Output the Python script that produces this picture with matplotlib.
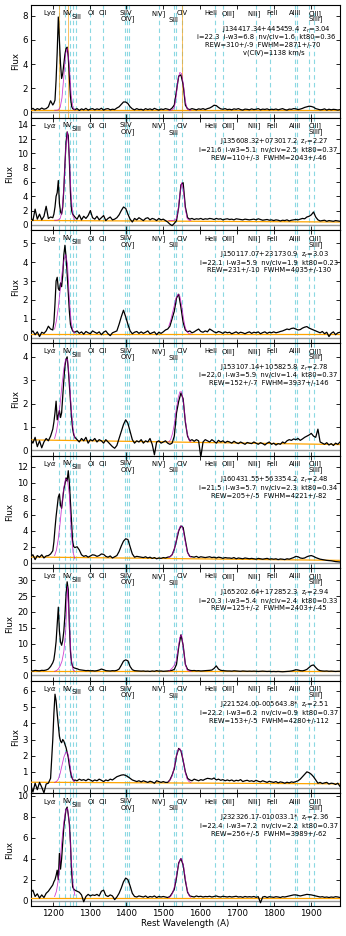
import numpy as np
import matplotlib
matplotlib.use("Agg")
import matplotlib.pyplot as plt

# ---------------- data ----------------
wave = np.concatenate([np.arange(1140, 1200, 6), np.arange(1200, 1260, 3), np.arange(1260, 1981, 6)])

flux_1 = [0.20, 0.32, 0.18, 0.30, 0.22, 0.35, 0.25, 0.30, 0.45, 0.95,
          0.60, 0.75, 1.00, 2.70, 5.00, 7.90, 6.00, 4.00, 2.80, 3.20, 4.00, 4.80, 5.30, 5.40, 4.60, 2.90, 1.30, 0.50, 0.30, 0.25,
          0.22, 0.30, 0.15, 0.28, 0.20, 0.32, 0.18, 0.26, 0.30, 0.20,
          0.28, 0.22, 0.33, 0.18, 0.27, 0.30, 0.20, 0.25, 0.22, 0.35,
          0.45, 0.65, 0.85, 0.85, 0.72, 0.45, 0.28, 0.20, 0.30, 0.22,
          0.25, 0.18, 0.30, 0.22, 0.28, 0.20, 0.32, 0.24, 0.18, 0.27,
          0.22, 0.30, 0.25, 0.20, 0.35, 0.60, 1.80, 3.00, 3.10, 2.30,
          0.60, 0.28, 0.22, 0.30, 0.25, 0.20, 0.28, 0.24, 0.30, 0.22,
          0.30, 0.35, 0.45, 0.58, 0.55, 0.40, 0.28, 0.25, 0.30, 0.22,
          0.25, 0.20, 0.28, 0.24, 0.30, 0.22, 0.18, 0.26, 0.24, 0.20,
          0.28, 0.22, 0.25, 0.30, 0.20, 0.26, 0.23, 0.28, 0.20, 0.25,
          0.22, 0.27, 0.20, 0.25, 0.30, 0.22, 0.18, 0.26, 0.24, 0.30,
          0.28, 0.22, 0.26, 0.32, 0.40, 0.45, 0.50, 0.48, 0.42, 0.30,
          0.25, 0.20, 0.22, 0.28, 0.18, 0.25, 0.20, 0.24, 0.22, 0.18,
          0.22]
flux_2 = [1.00, 0.60, 2.20, 0.80, 1.50, 0.70, 1.20, 2.60, 0.90, 1.10,
          1.00, 1.50, 2.50, 4.00, 4.50, 6.20, 3.00, 1.80, 1.50, 2.50, 5.00, 8.50, 11.50, 13.00, 12.50, 9.00, 4.50, 2.00, 1.50, 1.30,
          1.10, 0.80, 1.40, 0.70, 1.20, 0.90, 1.30, 2.00, 1.00, 0.80,
          1.20, 0.70, 1.00, 1.30, 0.60, 0.90, 1.10, 0.70, 0.80, 1.00,
          1.40, 2.00, 2.50, 2.30, 1.50, 0.80, 0.40, 0.90, 0.70, 1.00,
          0.80, 0.60, 0.90, 1.00, 0.70, 0.90, 0.80, 0.60, 0.90, 0.70,
          0.80, 0.60, 0.40, 0.10, -0.10, 0.20, 0.60, 2.50, 5.60, 5.90,
          2.50, 1.00, 0.80, 0.90, 0.75, 0.85, 0.80, 0.90, 0.75, 0.85,
          0.80, 0.90, 0.85, 0.75, 0.90, 0.80, 0.85, 0.70, 0.80, 0.85,
          0.75, 0.80, 0.70, 0.85, 0.80, 0.75, 0.70, 0.80, 0.75, 0.70,
          0.75, 0.80, 0.70, 0.85, 0.75, 0.65, 0.70, 0.75, 0.65, 0.70,
          0.60, 0.70, 0.65, 0.55, 0.65, 0.60, 0.70, 0.55, 0.65, 0.70,
          0.75, 0.70, 0.80, 0.90, 0.85, 1.10, 1.20, 1.40, 1.80, 1.10,
          0.70, 0.55, 0.60, 0.65, 0.50, 0.60, 0.55, 0.50, 0.60, 0.55,
          0.50]
flux_3 = [0.25, 0.35, 0.15, 0.30, 0.05, 0.28, 0.22, 0.35, 0.60, 0.45,
          0.40, 0.80, 1.80, 3.00, 3.20, 2.60, 2.50, 2.90, 2.70, 3.30, 4.40, 4.90, 4.30, 3.40, 2.40, 1.40, 0.70, 0.50, 0.35, 0.30,
          0.28, 0.35, 0.22, 0.30, 0.18, 0.32, 0.25, 0.20, 0.35, 0.28,
          0.22, 0.30, 0.15, 0.28, 0.35, 0.20, 0.10, 0.25, 0.30, 0.35,
          0.70, 1.10, 1.45, 1.10, 0.70, 0.35, 0.20, 0.28, 0.32, 0.22,
          0.30, 0.22, 0.28, 0.35, 0.20, 0.25, 0.30, 0.15, 0.28, 0.22,
          0.30, 0.40, 0.45, 0.60, 1.00, 1.40, 2.10, 2.30, 1.60, 0.80,
          0.40, 0.30, 0.35, 0.25, 0.30, 0.38, 0.45, 0.32, 0.28, 0.35,
          0.30, 0.45, 0.38, 0.30, 0.25, 0.32, 0.28, 0.22, 0.30, 0.25,
          0.28, 0.20, 0.25, 0.30, 0.22, 0.28, 0.25, 0.20, 0.26, 0.30,
          0.22, 0.28, 0.25, 0.30, 0.20, 0.26, 0.30, 0.22, 0.28, 0.25,
          0.30, 0.25, 0.28, 0.32, 0.35, 0.40, 0.45, 0.42, 0.48, 0.50,
          0.45, 0.40, 0.42, 0.50, 0.55, 0.58, 0.50, 0.45, 0.40, 0.35,
          0.30, 0.25, 0.32, 0.20, 0.28, 0.05, 0.22, 0.30, 0.15, 0.25,
          0.28]
flux_4 = [0.45, 0.30, 0.55, 0.15, 0.40, 0.10, 0.35, 0.50, 0.40, 0.60,
          0.90, 1.20, 1.60, 2.10, 1.30, 1.50, 1.70, 1.40, 1.60, 2.30, 3.00, 3.60, 3.90, 4.00, 3.50, 2.80, 2.10, 1.40, 0.90, 0.65,
          0.55, 0.45, 0.35, 0.50, 0.40, 0.55, 0.30, 0.45, 0.40, 0.50,
          0.35, 0.45, 0.40, 0.30, 0.45, 0.35, 0.25, 0.15, 0.08, 0.20,
          0.50, 0.80, 1.10, 1.30, 1.15, 0.80, 0.45, 0.30, 0.40, 0.35,
          0.45, 0.30, 0.40, 0.35, 0.50, 0.25, -0.20, 0.35, 0.40, 0.30,
          0.35, 0.40, 0.30, 0.25, 0.30, 0.60, 1.60, 2.10, 2.45, 2.20,
          1.20, 0.60, 0.40, 0.45, 0.38, 0.45, 0.40, -0.30, 0.35, 0.45,
          0.40, 0.35, 0.45, 0.38, 0.30, 0.42, 0.35, 0.40, 0.32, 0.38,
          0.35, 0.30, 0.38, 0.32, 0.28, 0.35, 0.30, 0.25, 0.33, 0.30,
          0.28, 0.35, 0.30, 0.25, 0.32, 0.28, 0.22, 0.30, 0.35, 0.25,
          0.30, 0.22, 0.28, 0.25, 0.35, 0.30, 0.40, 0.45, 0.42, 0.48,
          0.45, 0.50, 0.42, 0.48, 0.55, 0.60, 0.65, 0.72, 0.60, 0.55,
          0.90, 0.35, 0.30, 0.25, 0.32, 0.22, 0.28, 0.20, 0.30, 0.25,
          0.35]
flux_5 = [0.80, 1.00, 0.40, 0.90, 0.70, 1.00, 0.60, 0.85, 0.90, 1.10,
          1.50, 2.60, 4.30, 5.80, 7.00, 8.20, 8.60, 7.20, 6.80, 8.00, 9.20, 9.80, 10.60, 10.20, 11.50, 10.00, 7.50, 4.80, 2.60, 2.00,
          1.90, 2.00, 1.60, 1.00, 0.80, 0.90, 0.70, 0.85, 1.00, 0.95,
          0.80, 0.90, 1.10, 1.05, 0.80, 0.70, 0.85, 0.60, 0.75, 0.90,
          1.40, 2.10, 2.70, 3.00, 2.90, 2.00, 1.10, 0.70, 0.80, 0.75,
          0.70, 0.65, 0.75, 0.60, 0.70, 0.55, 0.65, 0.50, 0.60, 0.55,
          0.65, 0.60, 0.70, 0.75, 1.00, 1.70, 2.80, 4.00, 4.60, 4.40,
          2.80, 1.30, 0.80, 0.75, 0.70, 0.80, 0.65, 0.75, 0.70, 0.65,
          0.70, 0.75, 0.65, 0.70, 0.60, 0.70, 0.65, 0.55, 0.65, 0.60,
          0.60, 0.55, 0.65, 0.50, 0.60, 0.55, 0.50, 0.60, 0.55, 0.50,
          0.55, 0.50, 0.45, 0.55, 0.50, 0.45, 0.50, 0.55, 0.45, 0.50,
          0.45, 0.50, 0.40, 0.48, 0.45, 0.40, 0.50, 0.45, 0.55, 0.65,
          0.80, 0.75, 0.60, 0.55, 0.60, 0.75, 0.85, 0.90, 0.80, 0.65,
          0.55, 0.45, 0.40, 0.35, 0.30, 0.28, 0.25, 0.20, 0.15, 0.12,
          0.10]
flux_6 = [1.50, 1.40, 1.60, 1.50, 1.45, 1.60, 1.55, 1.70, 2.00, 2.80,
          4.00, 5.00, 7.50, 10.70, 16.00, 21.50, 14.00, 10.50, 9.50, 11.00, 14.00, 19.00, 25.50, 29.50, 27.00, 16.00, 7.50, 4.00, 2.80, 2.40,
          2.30, 2.10, 1.80, 1.70, 1.60, 1.50, 1.55, 1.45, 1.50, 1.40,
          1.50, 1.70, 2.00, 1.80, 1.50, 1.45, 1.40, 1.50, 1.45, 1.60,
          2.00, 3.20, 4.50, 4.90, 4.60, 2.80, 1.80, 1.50, 1.45, 1.40,
          1.35, 1.40, 1.30, 1.35, 1.25, 1.40, 1.30, 1.50, 1.35, 1.40,
          1.30, 1.35, 1.40, 1.50, 1.60, 1.90, 3.50, 9.00, 12.80, 9.50,
          3.50, 1.90, 1.60, 1.50, 1.55, 1.45, 1.50, 1.40, 1.45, 1.50,
          1.55, 1.60, 1.70, 2.20, 3.00, 2.00, 1.60, 1.50, 1.45, 1.40,
          1.40, 1.35, 1.45, 1.40, 1.35, 1.30, 1.40, 1.35, 1.30, 1.35,
          1.30, 1.35, 1.30, 1.25, 1.30, 1.35, 1.30, 1.25, 1.30, 1.20,
          1.25, 1.20, 1.25, 1.20, 1.15, 1.20, 1.25, 1.30, 1.40, 1.55,
          1.80, 1.70, 1.50, 1.45, 1.60, 1.90, 2.50, 3.10, 3.30, 2.50,
          1.80, 1.50, 1.40, 1.35, 1.40, 1.30, 1.35, 1.30, 1.25, 1.30,
          1.30]
flux_7 = [0.20, -0.25, 0.30, -0.10, 0.35, 0.05, -0.30, 0.25, 0.30, 0.60,
          3.00, 4.60, 5.80, 5.40, 4.60, 3.90, 3.20, 2.90, 2.80, 3.00, 2.90, 2.70, 2.50, 2.20, 1.90, 1.40, 1.00, 0.70, 0.55, 0.45,
          0.50, 0.45, 0.55, 0.48, 0.52, 0.45, 0.55, 0.50, 0.42, 0.50,
          0.45, 0.55, 0.48, 0.40, 0.50, 0.45, 0.55, 0.50, 0.60, 0.70,
          0.75, 0.80, 0.82, 0.78, 0.70, 0.60, 0.50, 0.45, 0.40, 0.45,
          0.38, 0.45, 0.40, 0.35, 0.42, 0.38, 0.30, 0.45, 0.40, 0.35,
          0.40, 0.35, 0.35, 0.50, 0.80, 1.20, 2.00, 2.45, 2.30, 1.70,
          1.00, 0.60, 0.50, 0.45, 0.55, 0.50, 0.45, 0.52, 0.48, 0.55,
          0.60, 0.58, 0.55, 0.62, 0.50, 0.55, 0.48, 0.52, 0.45, 0.50,
          0.45, 0.50, 0.42, 0.48, 0.45, 0.52, 0.40, 0.45, 0.48, 0.42,
          0.45, 0.40, 0.48, 0.42, 0.38, 0.45, 0.40, 0.35, 0.42, 0.38,
          0.35, 0.40, 0.32, 0.38, 0.35, 0.30, 0.36, 0.32, 0.38, 0.35,
          0.40, 0.45, 0.55, 0.70, 0.85, 1.00, 0.95, 0.85, 0.70, 0.50,
          0.30, 0.35, 0.28, 0.32, 0.35, 0.25, 0.30, 0.28, 0.22, 0.30,
          0.10]
flux_8 = [0.80, 1.00, 0.40, 0.65, 0.25, 0.55, 0.30, 0.70, 0.90, 1.20,
          1.50, 1.80, 2.00, 2.40, 2.90, 2.00, 4.50, 3.00, 4.00, 5.50, 7.00, 7.90, 8.70, 8.90, 8.20, 7.30, 5.50, 2.80, 1.30, 1.10,
          1.00, 0.90, 0.80, 0.55, -0.10, 0.40, 0.60, 0.45, 0.55, 0.50,
          0.60, 0.45, 0.90, 1.00, 0.50, 0.40, 0.55, 0.45, 0.10, 0.35,
          0.70, 1.20, 1.80, 2.15, 2.00, 1.40, 0.70, 0.40, 0.35, 0.45,
          0.40, 0.35, 0.45, 0.30, 0.40, 0.35, 0.45, 0.30, 0.40, 0.35,
          0.40, 0.35, 0.30, 0.40, 0.70, 1.10, 2.20, 3.60, 4.00, 3.40,
          1.90, 0.80, 0.45, 0.40, 0.35, 0.45, 0.38, 0.42, 0.35, 0.40,
          0.38, 0.42, 0.35, 0.40, 0.45, 0.38, 0.35, 0.42, 0.38, 0.35,
          0.40, 0.35, 0.38, 0.42, 0.35, 0.38, 0.32, 0.40, 0.35, 0.38,
          0.35, 0.40, 0.32, 0.38, -0.20, 0.35, 0.40, 0.30, 0.38, 0.35,
          0.32, 0.38, 0.35, 0.30, 0.38, 0.35, 0.40, 0.45, 0.50, 0.55,
          0.55, 0.50, 0.45, 0.50, 0.55, 0.60, 0.58, 0.55, 0.50, 0.45,
          0.40, 0.35, 0.38, 0.32, 0.35, 0.30, 0.35, 0.32, 0.38, 0.35,
          0.30]
fluxes = [flux_1, flux_2, flux_3, flux_4, flux_5, flux_6, flux_7, flux_8]

# magenta line-model curves (NV and CIV regions)
nv_wave = [1205, 1210, 1215, 1220, 1225, 1230, 1235, 1240, 1245, 1250, 1255, 1260]
civ_wave = [1515, 1520, 1525, 1530, 1535, 1540, 1545, 1550, 1555, 1560, 1565, 1570, 1575]
nv_model = [
    [0.17, 0.17, 0.20, 0.40, 1.20, 3.00, 4.90, 5.30, 3.80, 1.40, 0.35, 0.17],
    [0.65, 0.65, 0.70, 0.90, 1.80, 5.00, 10.5, 13.0, 9.50, 3.80, 1.20, 0.70],
    [0.45, 0.90, 1.60, 2.50, 3.40, 4.10, 4.40, 3.90, 2.00, 0.80, 0.35, 0.22],
    [0.50, 0.80, 1.30, 2.00, 2.80, 3.50, 3.90, 3.90, 3.00, 1.80, 0.90, 0.50],
    [0.90, 1.60, 3.00, 5.00, 7.40, 9.40, 10.5, 10.3, 8.50, 4.00, 1.30, 0.50],
    [1.30, 1.50, 2.00, 3.00, 4.50, 7.50, 14.0, 28.0, 17.0, 5.00, 1.80, 1.30],
    [0.35, 0.40, 0.55, 0.90, 1.40, 1.90, 2.20, 2.20, 1.70, 0.90, 0.50, 0.37],
    [0.40, 0.90, 2.00, 3.80, 5.80, 7.50, 8.60, 8.80, 7.30, 4.00, 1.50, 0.50],
]
civ_model = [
    [0.17, 0.17, 0.20, 0.40, 1.30, 2.70, 3.30, 3.20, 2.20, 0.90, 0.30, 0.18, 0.17],
    [0.62, 0.62, 0.62, 0.65, 0.80, 1.80, 4.20, 5.90, 4.80, 2.20, 0.90, 0.65, 0.62],
    [0.60, 0.90, 1.30, 1.70, 2.10, 2.30, 2.20, 1.70, 1.00, 0.50, 0.30, 0.20, 0.19],
    [0.35, 0.45, 0.70, 1.10, 1.70, 2.20, 2.50, 2.50, 2.00, 1.30, 0.70, 0.45, 0.35],
    [0.70, 0.80, 1.10, 1.70, 2.70, 3.80, 4.50, 4.60, 3.90, 2.60, 1.40, 0.90, 0.70],
    [1.40, 1.80, 2.40, 3.20, 4.50, 8.00, 12.0, 12.8, 8.50, 3.50, 1.70, 1.35, 1.30],
    [0.40, 0.55, 0.80, 1.30, 1.90, 2.35, 2.45, 2.20, 1.60, 0.95, 0.55, 0.40, 0.35],
    [0.30, 0.40, 0.70, 1.30, 2.20, 3.20, 3.90, 4.00, 3.30, 2.10, 1.00, 0.50, 0.32],
]

# continuum level at left/right ends of the plotted range
cont_left = [0.17, 0.62, 0.19, 0.44, 0.72, 1.25, 0.36, 0.29]
cont_right = [0.17, 0.40, 0.19, 0.24, 0.30, 1.25, 0.26, 0.29]

ylim_top = [8.9, 15.0, 5.7, 4.6, 13.4, 33.8, 6.63, 10.2]
ytick_step = [2, 2, 1, 1, 2, 5, 1, 2]

names = ["J134417.34+445459.4", "J135608.32+073017.2", "J150117.07+231730.9",
         "J153107.14+105825.8", "J160431.55+563354.2", "J165202.64+172852.3",
         "J221524.00-005643.8*", "J232326.17-010033.1*"]
z_r = ["3.04", "2.27", "3.03", "2.78", "2.48", "2.94", "2.51", "2.36"]
imag = ["22.3", "21.6", "22.1", "22.0", "21.5", "20.3", "22.2", "22.4"]
iw3 = ["6.8", "5.1", "5.9", "5.9", "5.7", "5.4", "6.2", "7.2"]
nvciv = ["1.6", "2.5", "1.9", "1.4", "2.3", "2.4", "0.9", "2.2"]
kt80 = ["0.36", "0.37", "0.23", "0.37", "0.34", "0.33", "0.37", "0.37"]
rew = ["310+/-9", "110+/-3", "231+/-10", "152+/-7", "205+/-5", "125+/-2", "153+/-5", "256+/-5"]
fwhm = ["2871+/-70", "2043+/-46", "4035+/-130", "3937+/-146", "4221+/-82", "2403+/-45", "4280+/-112", "3989+/-62"]
extra_line = {0: "v(CIV)=1138 km/s"}

# emission line markers
line_waves = [1215.7, 1234.0, 1245.5, 1254.7, 1263.0, 1301.7, 1335.2, 1396.8, 1401.4, 1407.7,
              1489.2, 1528.2, 1534.5, 1550.8, 1641.4, 1662.2, 1752.8, 1789.0, 1857.9, 1863.3,
              1895.0, 1908.6]
label_text = [r"Ly$\alpha$", "NV", "SiII", "OI", "CII", "SiIV", "OIV]", "NIV]", "SiII", "CIV",
              "HeII", "OIII]", "NIII]", "FeII", "AlIII", "SiIII]", "CIII]"]
label_x = [1193, 1240, 1264.6, 1303.5, 1336, 1399.5, 1403, 1488, 1529, 1551.7,
           1628.7, 1676.7, 1745.6, 1795.4, 1858.8, 1913, 1912]
label_y = [0.926, 0.930, 0.896, 0.926, 0.926, 0.930, 0.876, 0.926, 0.867, 0.926,
           0.926, 0.926, 0.926, 0.926, 0.926, 0.876, 0.926]
orange_marks_panel1 = [1216.0, 1242.0, 1550.0]

# ---------------- plot ----------------
XMIN, XMAX = 1140, 1980
fig = plt.figure(figsize=(3.46, 9.36), dpi=100)
axes = fig.subplots(8, 1, sharex=True, gridspec_kw=dict(hspace=0))
fig.subplots_adjust(left=0.0887, right=0.9827, top=0.9947, bottom=0.032)

cyan = "#8ad8e2"
fs_small = 4.9
for i, ax in enumerate(axes):
    for lw_ in line_waves:
        ax.axvline(lw_, color=cyan, lw=0.8, ls=(0, (4, 3)), zorder=1)
    if i == 0:
        for ow in orange_marks_panel1:
            ax.axvline(ow, color="#f5a623", lw=0.5, zorder=2)
    ax.axhline(0, color="0.6", lw=1.0, zorder=2)
    ax.plot([XMIN, XMAX], [cont_left[i], cont_right[i]], color="orange", lw=0.9, zorder=3)
    ax.plot(wave, fluxes[i], color="black", lw=0.9, zorder=4)
    ax.plot(nv_wave, nv_model[i], color="m", lw=0.6, zorder=5, alpha=0.75)
    ax.plot(civ_wave, civ_model[i], color="m", lw=0.6, zorder=5, alpha=0.75)

    top = ylim_top[i]
    ax.set_ylim(-0.05 * top, top)
    ax.set_xlim(XMIN, XMAX)
    ax.set_yticks(np.arange(0, top, ytick_step[i]))
    ax.set_xticks(np.arange(1200, 1901, 100))
    ax.tick_params(direction="in", top=True, right=True, length=3, width=0.6,
                   labelsize=6.2, pad=2)
    for s in ax.spines.values():
        s.set_linewidth(0.8)
    ax.set_ylabel("Flux", fontsize=6.2, labelpad=2)

    tr = ax.get_xaxis_transform()
    for t, lx, ly in zip(label_text, label_x, label_y):
        ax.text(lx, ly, t, transform=tr, ha="center", va="center", fontsize=fs_small, zorder=6)

    info = [names[i] + "  z$_r$=" + z_r[i],
            "i=" + imag[i] + "  i-w3=" + iw3[i] + "  nv/civ=" + nvciv[i] + "  kt80=" + kt80[i],
            "REW=" + rew[i] + "  FWHM=" + fwhm[i]]
    if i in extra_line:
        info.append(extra_line[i])
    ys = [0.782, 0.712, 0.644, 0.573]
    if i == 0:
        xs = [1806, 1780, 1769, 1800]
    else:
        xs = [1802, 1786, 1786, 1786]
    for t, x, y in zip(info, xs, ys):
        ax.text(x, y, t, transform=tr, ha="center", va="center", fontsize=fs_small, zorder=6)

axes[-1].set_xlabel("Rest Wavelength (A)", fontsize=6.2, labelpad=1)
fig.savefig("out.png", dpi=100)
